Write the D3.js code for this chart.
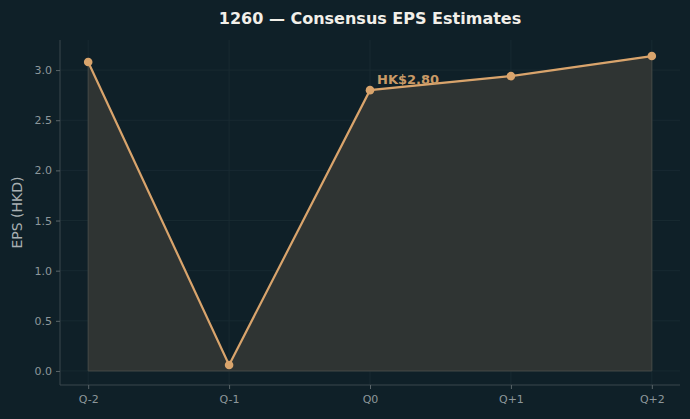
<!DOCTYPE html>
<html lang="en">
<head>
<meta charset="utf-8">
<title>1260 EPS</title>
<script src="https://cdn.jsdelivr.net/npm/d3@7/dist/d3.min.js"></script>
<style>
  body { margin: 0; background: #0f2028; }
  text { font-family: "DejaVu Sans", sans-serif; }
</style>
</head>
<body>
<script>
// data
var quarters = ["Q-2", "Q-1", "Q0", "Q+1", "Q+2"];
var eps = [3.08, 0.06, 2.80, 2.94, 3.14];
var yTicks = [0, 0.5, 1.0, 1.5, 2.0, 2.5, 3.0];
var labelText = "HK$2.80";
var labelIndex = 2;

var width = 690, height = 419;
var plotL = 60, plotR = 680, plotT = 40, plotB = 385;

var svg = d3.select("body").append("svg")
    .attr("width", width)
    .attr("height", height)
    .style("background", "#0f2028");

var x = d3.scaleLinear().domain([-0.2, 4.2]).range([plotL, plotR]);
var y = d3.scaleLinear().domain([-0.14, 3.30]).range([plotB, plotT]);

// grid
svg.append("g").selectAll("line")
  .data(yTicks).enter().append("line")
    .attr("x1", plotL).attr("x2", plotR)
    .attr("y1", d => y(d)).attr("y2", d => y(d))
    .attr("stroke", "#1a2c34").attr("stroke-width", 0.8);
svg.append("g").selectAll("line")
  .data(quarters).enter().append("line")
    .attr("x1", (d, i) => x(i)).attr("x2", (d, i) => x(i))
    .attr("y1", plotT).attr("y2", plotB)
    .attr("stroke", "#1a2c34").attr("stroke-width", 0.8);

// area fill
var area = d3.area()
    .x((d, i) => x(i))
    .y0(y(0))
    .y1(d => y(d));
svg.append("path")
    .datum(eps)
    .attr("d", area)
    .attr("fill", "#2f3433")
    .attr("stroke", "#464a47")
    .attr("stroke-width", 1);

// line
var line = d3.line().x((d, i) => x(i)).y(d => y(d));
svg.append("path")
    .datum(eps)
    .attr("d", line)
    .attr("fill", "none")
    .attr("stroke", "#d9a46c")
    .attr("stroke-width", 2.2);

svg.append("g").selectAll("circle")
  .data(eps).enter().append("circle")
    .attr("cx", (d, i) => x(i))
    .attr("cy", d => y(d))
    .attr("r", 4.3)
    .attr("fill", "#d9a46c");

// annotation
svg.append("text")
    .attr("x", x(labelIndex) + 7)
    .attr("y", y(eps[labelIndex]) - 6)
    .attr("fill", "#c99a66")
    .attr("font-size", 13)
    .attr("font-weight", "bold")
    .text(labelText);

// axes
var yAxis = d3.axisLeft(y).tickValues(yTicks).tickFormat(d3.format(".1f")).tickSize(4).tickPadding(4);
var gy = svg.append("g").attr("transform", "translate(" + plotL + ",0)").call(yAxis);
var xAxis = d3.axisBottom(x).tickValues(d3.range(quarters.length)).tickFormat(i => quarters[i]).tickSize(4).tickPadding(6);
var gx = svg.append("g").attr("transform", "translate(0," + plotB + ")").call(xAxis);

[gx, gy].forEach(function(g) {
  g.select(".domain").attr("stroke", "#3b474c").attr("stroke-width", 1);
  g.selectAll(".tick line").attr("stroke", "#5a6569");
  g.selectAll(".tick text").attr("fill", "#8d979b").attr("font-size", 11)
    .attr("font-family", "DejaVu Sans, sans-serif");
});
gy.select(".domain").attr("d", "M0," + plotT + "V" + plotB);
gx.select(".domain").attr("d", "M" + plotL + ",0H" + plotR);

// y label
svg.append("text")
    .attr("transform", "translate(22," + ((plotT + plotB) / 2) + ") rotate(-90)")
    .attr("text-anchor", "middle")
    .attr("fill", "#a9b0b3")
    .attr("font-size", 14)
    .text("EPS (HKD)");

// title
svg.append("text")
    .attr("x", 370)
    .attr("y", 24)
    .attr("text-anchor", "middle")
    .attr("fill", "#f2efe9")
    .attr("font-size", 16)
    .attr("font-weight", "bold")
    .text("1260 — Consensus EPS Estimates");
</script>
</body>
</html>
